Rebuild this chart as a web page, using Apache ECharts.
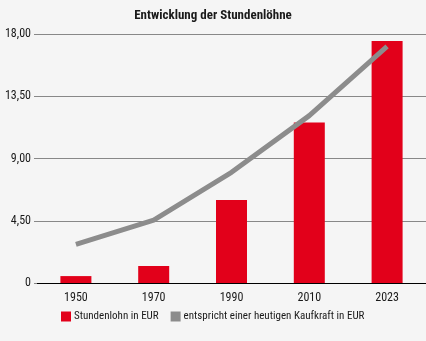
<!DOCTYPE html>
<html>
<head>
<meta charset="utf-8">
<script src="https://cdn.jsdelivr.net/npm/echarts@6/dist/echarts.min.js"></script>
<style>
  html, body { margin: 0; padding: 0; background: #f5f5f5; }
  #chart { width: 426px; height: 341px; }
</style>
</head>
<body>
<div id="chart"></div>
<script>
// Hourly wages over the decades, with today's purchasing power equivalent
const years = ['1950', '1970', '1990', '2010', '2023'];
const wageEUR = [0.5, 1.23, 6.0, 11.6, 17.5];
const purchasingPowerEUR = [2.8, 4.55, 8.0, 12.1, 17.1];
const yTicks = [0, 4.5, 9, 13.5, 18];

const FONT = '"Roboto Condensed", "Liberation Sans Narrow", "DejaVu Sans Condensed", sans-serif';

const chart = echarts.init(document.getElementById('chart'));
chart.setOption({
  backgroundColor: '#f5f5f5',
  textStyle: { fontFamily: FONT },
  title: {
    text: 'Entwicklung der Stundenlöhne',
    left: 'center',
    top: 4,
    textStyle: { fontFamily: FONT, fontSize: 13, fontWeight: 'bold', color: '#1a1a1a' }
  },
  legend: {
    bottom: 14,
    left: 56,
    itemWidth: 10,
    itemHeight: 10,
    itemGap: 12,
    textStyle: { fontFamily: FONT, fontSize: 11, color: '#1a1a1a', padding: [0, 0, 0, -2] },
    data: [
      { name: 'Stundenlohn in EUR', icon: 'rect' },
      { name: 'entspricht einer heutigen Kaufkraft in EUR', icon: 'rect' }
    ]
  },
  grid: { left: 37, right: -2, top: 34, bottom: 58 },
  xAxis: {
    type: 'category',
    data: years,
    axisLine: { lineStyle: { color: '#000', width: 1 } },
    axisTick: { show: false },
    axisLabel: { fontFamily: FONT, fontSize: 12, color: '#1a1a1a', margin: 9 }
  },
  yAxis: {
    type: 'value',
    min: yTicks[0],
    max: yTicks[yTicks.length - 1],
    interval: 4.5,
    axisLine: { show: false },
    axisTick: { show: true, length: 3, lineStyle: { color: '#888' } },
    splitLine: { lineStyle: { color: '#888', width: 1 } },
    axisLabel: {
      fontFamily: FONT, fontSize: 12, color: '#1a1a1a', margin: 6,
      formatter: v => v === 0 ? '0' : v.toFixed(2).replace('.', ',')
    }
  },
  series: [
    {
      name: 'Stundenlohn in EUR',
      type: 'bar',
      data: wageEUR,
      barWidth: 31,
      itemStyle: { color: '#e2001a' }
    },
    {
      name: 'entspricht einer heutigen Kaufkraft in EUR',
      type: 'line',
      data: purchasingPowerEUR,
      symbol: 'none',
      lineStyle: { color: '#8c8c8c', width: 5 },
      itemStyle: { color: '#8c8c8c' },
      z: 3
    }
  ]
});
</script>
</body>
</html>
